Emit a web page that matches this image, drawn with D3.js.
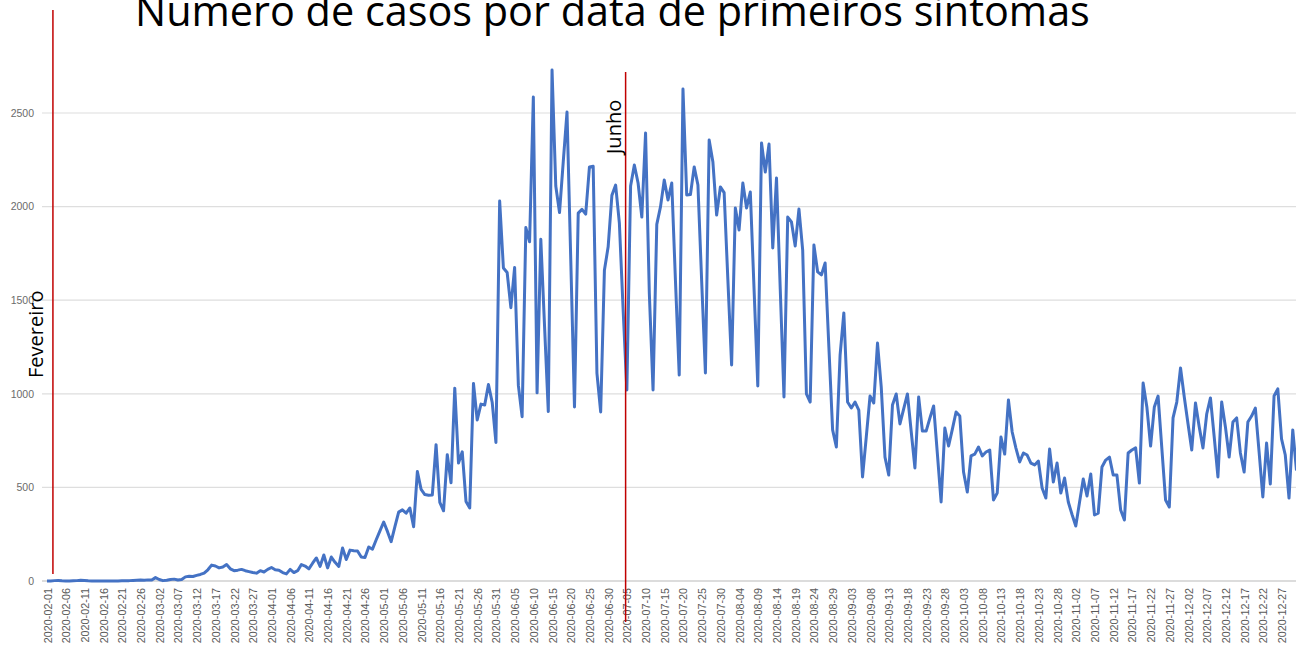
<!DOCTYPE html>
<html><head><meta charset="utf-8">
<script src="https://cdn.jsdelivr.net/npm/d3@7"></script>
<style>body{margin:0;background:#fff;overflow:hidden}svg{display:block}</style>
</head><body><svg id="c" width="1296" height="649"></svg>
<script>
// ---- data ----
const startDate = "2020-02-01";
const cases = [
0,0,2,3,1,0,0,1,2,4,3,1,0,0,0,0,0,0,0,0,1,2,2,3,4,5,4,6,5,
18,8,2,4,8,10,5,8,22,25,24,30,35,42,60,85,80,70,75,88,65,55,58,62,55,50,45,42,55,48,62,
72,60,58,45,38,62,45,55,88,80,65,95,123,78,139,70,128,100,78,176,115,165,162,160,128,125,182,170,220,268,
315,265,210,290,368,380,362,390,290,585,490,462,458,460,728,420,375,675,525,1030,630,690,425,390,1055,860,945,940,1050,955,740,
2030,1672,1648,1460,1675,1045,878,1888,1812,2585,1005,1825,1360,905,2730,2110,1968,2240,2505,1720,930,1965,1985,1960,2212,2215,1110,903,1660,1785,
2060,2115,1912,1450,1020,2110,2222,2126,1944,2393,1540,1020,1905,2000,2142,2035,2126,1600,1100,2628,2062,2065,2212,2115,1600,1111,2356,2238,1955,2105,2075,
1610,1154,1993,1875,2126,1993,2078,1560,1042,2340,2185,2334,1779,2153,1560,983,1944,1918,1790,1987,1768,999,956,1795,1651,1635,1699,1250,807,716,1207,
1432,956,924,956,913,556,770,988,951,1271,1036,662,566,940,999,839,920,999,800,604,983,801,801,870,935,680,422,817,721,810,
903,881,582,475,668,678,716,668,689,700,433,470,769,678,967,796,710,636,684,673,630,620,641,497,443,705,529,630,470,550,422,
355,294,420,545,454,572,353,363,609,646,662,566,566,379,326,684,700,711,523,1058,930,721,930,988,710,433,395,871,956,1138,
983,840,700,951,823,711,892,978,770,556,956,823,662,849,871,684,582,849,881,924,690,449,737,518,988,1026,759,673,443,807,590
];
const yTicks = [0,500,1000,1500,2000,2500];
const markerLabels = ["Fevereiro","Junho"];
const markerDates = ["2020-02-02T14:00:00Z","2020-07-04T16:00:00Z"];
const titleText = "Número de casos por data de primeiros sintomas";

// ---- build ----
const parse = d3.utcParse("%Y-%m-%d");
const t0 = parse(startDate);
const dates = cases.map((_, i) => d3.utcDay.offset(t0, i));
const rows = dates.map((d, i) => ({date: d, value: cases[i]}));

const svg = d3.select("#c");
const x = d3.scaleUtc().domain([dates[0], dates[dates.length-1]]).range([47, 1296.5]);
const y = d3.scaleLinear().domain([0, 2500]).range([581, 113]);

// gridlines
svg.append("g").selectAll("line").data(yTicks).join("line")
  .attr("x1", 42).attr("x2", 1296)
  .attr("y1", d => y(d)).attr("y2", d => y(d))
  .attr("stroke", d => d === 0 ? "#d0d0d0" : "#dedede").attr("stroke-width", d => d===0?1.5:1.2);

// y axis labels
const yAxis = svg.append("g").attr("transform", "translate(34,0)")
  .call(d3.axisLeft(y).tickValues(yTicks).tickFormat(d3.format("d")).tickSize(0).tickPadding(0));
yAxis.select(".domain").remove();
yAxis.selectAll("text").attr("fill", "#6b6b6b").attr("font-family", "Liberation Sans, Arial, sans-serif").attr("font-size", 10.5);

// x axis labels
const xTickVals = dates.filter((d, i) => i % 5 === 0);
const xAxis = svg.append("g").attr("transform", "translate(0,581)")
  .call(d3.axisBottom(x).tickValues(xTickVals).tickFormat(d3.utcFormat("%Y-%m-%d")).tickSize(0));
xAxis.select(".domain").remove();
xAxis.selectAll("text")
  .attr("fill", "#595959").attr("font-family", "Liberation Sans, Arial, sans-serif").attr("font-size", 10.8)
  .attr("text-anchor", "end").attr("dy", null)
  .attr("transform", "translate(4,7) rotate(-90)").attr("x", 0).attr("y", 0);

// line
svg.append("path").datum(rows)
  .attr("fill", "none").attr("stroke", "#4472C4").attr("stroke-width", 3)
  .attr("stroke-linejoin", "round")
  .attr("d", d3.line().x(d => x(d.date)).y(d => y(d.value)));

// red marker lines
const mk = markerDates.map((s, i) => ({date: new Date(s), label: markerLabels[i]}));
svg.append("line").attr("x1", x(mk[0].date)).attr("x2", x(mk[0].date)).attr("y1", 10).attr("y2", 574)
  .attr("stroke", "#C00000").attr("stroke-width", 1.5);
svg.append("line").attr("x1", x(mk[1].date)).attr("x2", x(mk[1].date)).attr("y1", 72).attr("y2", 622)
  .attr("stroke", "#C00000").attr("stroke-width", 1.5);

svg.append("text").text(mk[0].label)
  .attr("transform", `translate(${x(mk[0].date) - 10},378) rotate(-90)`)
  .attr("font-family", "Open Sans, sans-serif").attr("font-size", 20).attr("fill", "#000");
svg.append("text").text(mk[1].label)
  .attr("transform", `translate(${x(mk[1].date) - 5},154) rotate(-90)`)
  .attr("font-family", "Open Sans, sans-serif").attr("font-size", 20).attr("fill", "#000");

// title
const title = svg.append("text").text(titleText)
  .attr("x", 135).attr("y", 26)
  .attr("font-family", "Open Sans, sans-serif").attr("font-size", 34).attr("fill", "#000");
const w = title.node().getComputedTextLength();
title.attr("font-size", 34 * 955 / w);
</script></body></html>
